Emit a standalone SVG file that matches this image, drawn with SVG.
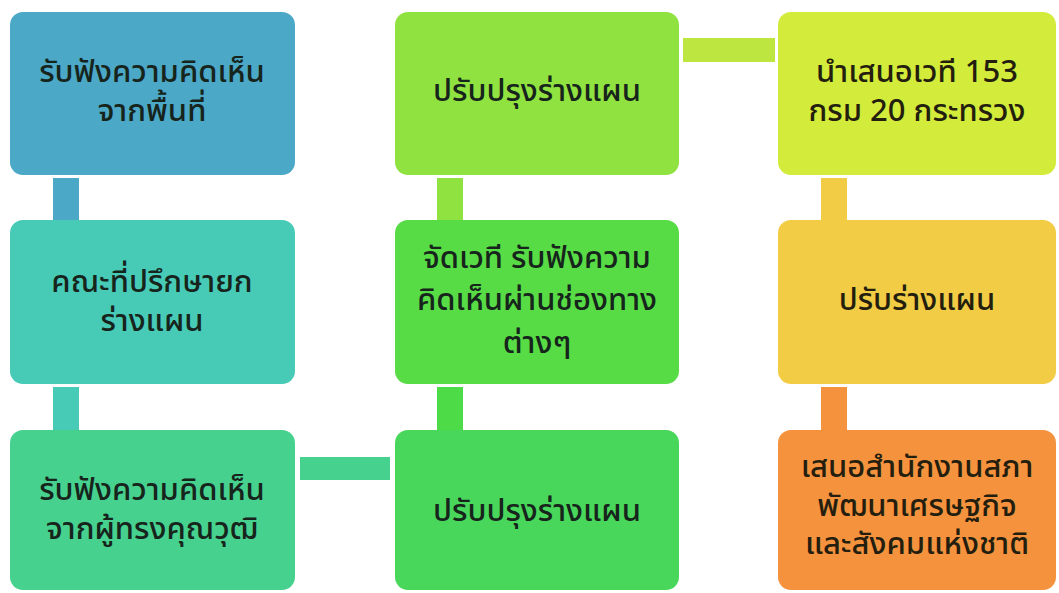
<svg xmlns="http://www.w3.org/2000/svg" width="1059" height="593" viewBox="0 0 1059 593">
<style>
.box{stroke:none}
.t{font-family:"Noto Sans Thai","Noto Sans","DejaVu Sans",sans-serif;font-size:31px;font-weight:500;text-anchor:middle;fill:#16241c}
.t3{fill:#241e0e}
</style>
<rect width="1059" height="593" fill="#ffffff"/>
<g id="connectors">
<rect x="53" y="178" width="26" height="42" fill="#4BA8C6"/>
<rect x="53" y="387" width="26" height="43" fill="#47CBB7"/>
<rect x="300" y="457" width="90" height="23" fill="#47D18E"/>
<rect x="437" y="178" width="26" height="42" fill="#8FE23F"/>
<rect x="437" y="387" width="26" height="43" fill="#4EDB48"/>
<rect x="683" y="38" width="92" height="24" fill="#BDE640"/>
<rect x="821" y="178" width="26" height="42" fill="#F2CC44"/>
<rect x="821" y="387" width="26" height="43" fill="#F5923E"/>
</g>
<g id="n1">
<rect class="box" x="10" y="12" width="285" height="163" rx="13" fill="#4BA8C6"/>
<text class="t" x="152" y="82">รับฟังความคิดเห็น</text>
<text class="t" x="152" y="121">จากพื้นที่</text>
</g>
<g id="n2">
<rect class="box" x="10" y="220" width="285" height="164" rx="13" fill="#47CBB7"/>
<text class="t" x="152" y="292">คณะที่ปรึกษายก</text>
<text class="t" x="152" y="331">ร่างแผน</text>
</g>
<g id="n3">
<rect class="box" x="10" y="430" width="285" height="160" rx="13" fill="#47D18E"/>
<text class="t" x="152" y="500">รับฟังความคิดเห็น</text>
<text class="t" x="152" y="539">จากผู้ทรงคุณวุฒิ</text>
</g>
<g id="n4">
<rect class="box" x="395" y="12" width="284" height="163" rx="13" fill="#8FE23F"/>
<text class="t" x="537" y="101">ปรับปรุงร่างแผน</text>
</g>
<g id="n5">
<rect class="box" x="395" y="220" width="284" height="164" rx="13" fill="#57DC46"/>
<text class="t" x="537" y="268">จัดเวที รับฟังความ</text>
<text class="t" x="537" y="310">คิดเห็นผ่านช่องทาง</text>
<text class="t" x="537" y="353">ต่างๆ</text>
</g>
<g id="n6">
<rect class="box" x="395" y="430" width="284" height="160" rx="13" fill="#48D75A"/>
<text class="t" x="537" y="521">ปรับปรุงร่างแผน</text>
</g>
<g id="n7">
<rect class="box" x="778" y="12" width="278" height="163" rx="13" fill="#D3EB3A"/>
<text class="t t3" x="917" y="82">นำเสนอเวที 153</text>
<text class="t t3" x="917" y="121">กรม 20 กระทรวง</text>
</g>
<g id="n8">
<rect class="box" x="778" y="220" width="278" height="164" rx="13" fill="#F2CC44"/>
<text class="t t3" x="917" y="310">ปรับร่างแผน</text>
</g>
<g id="n9">
<rect class="box" x="778" y="430" width="278" height="160" rx="13" fill="#F5923E"/>
<text class="t t3" x="917" y="477">เสนอสำนักงานสภา</text>
<text class="t t3" x="917" y="516">พัฒนาเศรษฐกิจ</text>
<text class="t t3" x="917" y="554">และสังคมแห่งชาติ</text>
</g>
</svg>
